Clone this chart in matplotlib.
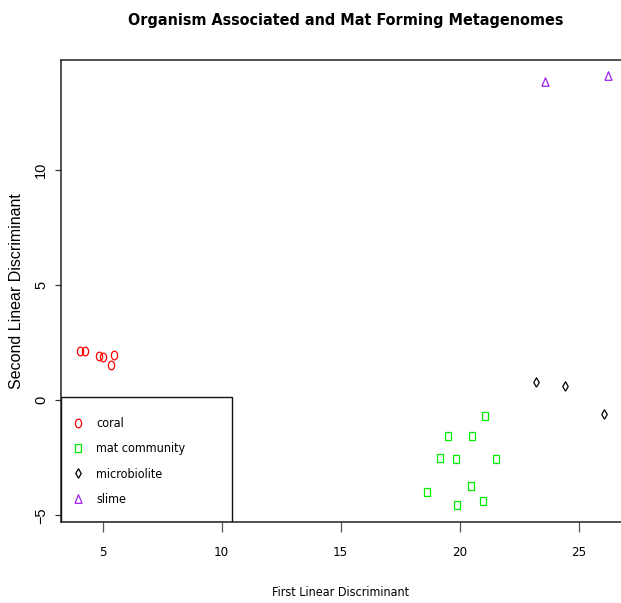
import matplotlib

matplotlib.use("Agg")
import matplotlib.pyplot as plt
import numpy as np
from matplotlib.path import Path
from matplotlib.patches import Rectangle
from matplotlib.font_manager import FontProperties

# LDA scores
coral_x = [4.03, 4.24, 4.86, 5.01, 5.49, 5.35]
coral_y = [2.14, 2.14, 1.91, 1.88, 1.96, 1.55]
mat_x = [21.08, 19.50, 20.53, 19.17, 19.86, 21.53, 20.46, 18.64, 20.98, 19.90]
mat_y = [-0.67, -1.57, -1.54, -2.52, -2.54, -2.55, -3.73, -3.97, -4.38, -4.55]
micro_x = [23.19, 24.42, 26.08]
micro_y = [0.78, 0.64, -0.58]
slime_x = [23.60, 26.25]
slime_y = [13.84, 14.10]

groups = ["coral", "mat community", "microbiolite", "slime"]
colors = ["#ff0000", "#00ee00", "#000000", "#a020f0"]


def narrow(size, weight="normal"):
    return FontProperties(family="DejaVu Sans", stretch="condensed", size=size, weight=weight)


def regular(size):
    return FontProperties(family="Liberation Sans", size=size)


def squeezed(path, sx=0.72):
    # the reference is a bit squashed sideways, so are its symbols
    return Path(path.vertices * np.array([sx, 1.0]), path.codes)


t = np.linspace(0, 2 * np.pi, 60)
circle = Path(np.column_stack([0.72 * np.cos(t), np.sin(t)]))
square = squeezed(Path([(-1, -1), (1, -1), (1, 1), (-1, 1), (-1, -1)]), 0.72)
diamond = squeezed(Path([(0, -1), (1, 0), (0, 1), (-1, 0), (0, -1)]), 0.58)
triangle = squeezed(Path([(-1, -0.8), (1, -0.8), (0, 1), (-1, -0.8)]), 0.75)

series = [
    (coral_x, coral_y, circle, 6.2),
    (mat_x, mat_y, square, 5.2),
    (micro_x, micro_y, diamond, 6.8),
    (slime_x, slime_y, triangle, 6.8),
]

fig = plt.figure(figsize=(6.21, 6.03), dpi=100)
ax = fig.add_axes([60.7 / 621, 1 - 522.3 / 603, 1 - 60.7 / 621, (522.3 - 60) / 603])

handles = []
for (xs, ys, marker, ms), name, col in zip(series, groups, colors):
    h, = ax.plot(xs, ys, linestyle="none", marker=marker, markersize=ms,
                 markerfacecolor="none", markeredgecolor=col,
                 markeredgewidth=0.9, label=name)
    handles.append(h)

ax.set_xlim(3.24, 26.78)
ax.set_ylim(-5.30, 14.78)
ax.set_xticks([5, 10, 15, 20, 25])
ax.set_yticks([-5, 0, 5, 10])

for side in ["left", "top", "bottom"]:
    ax.spines[side].set_linewidth(1.1)
    ax.spines[side].set_color("#222222")
ax.spines["right"].set_visible(False)

ax.tick_params(axis="x", length=7.2, width=0.9, pad=10, color="#555555")
ax.tick_params(axis="y", length=4.1, width=0.9, pad=5, color="#333333")
for lab in ax.get_xticklabels():
    lab.set_fontproperties(narrow(9.5))
for lab in ax.get_yticklabels():
    lab.set_fontproperties(regular(10.5))
    lab.set_rotation(90)
    lab.set_verticalalignment("center")

ax.set_xlabel("First Linear Discriminant", fontproperties=narrow(9), labelpad=19)
ax.set_ylabel("Second Linear Discriminant", fontproperties=regular(11.5), labelpad=7)

fig.text(346 / 621, 1 - 20 / 603, "Organism Associated and Mat Forming Metagenomes",
         fontproperties=narrow(11.5, "bold"), ha="center", va="center")

# legend box, R style bottomleft
ax.add_patch(Rectangle((0, 0), (232.3 - 60.7) / (621 - 60.7), (522.3 - 397.3) / (522.3 - 60),
                       transform=ax.transAxes, fill=False, edgecolor="#111111",
                       linewidth=1.0, zorder=3))
leg = ax.legend(handles=handles, loc="lower left", bbox_to_anchor=(0.008, 0.022),
                frameon=False, prop=narrow(9),
                handlelength=1.1, handletextpad=0.86, labelspacing=0.98,
                borderaxespad=0.0, borderpad=0.5)

fig.savefig("out.png", dpi=100)
